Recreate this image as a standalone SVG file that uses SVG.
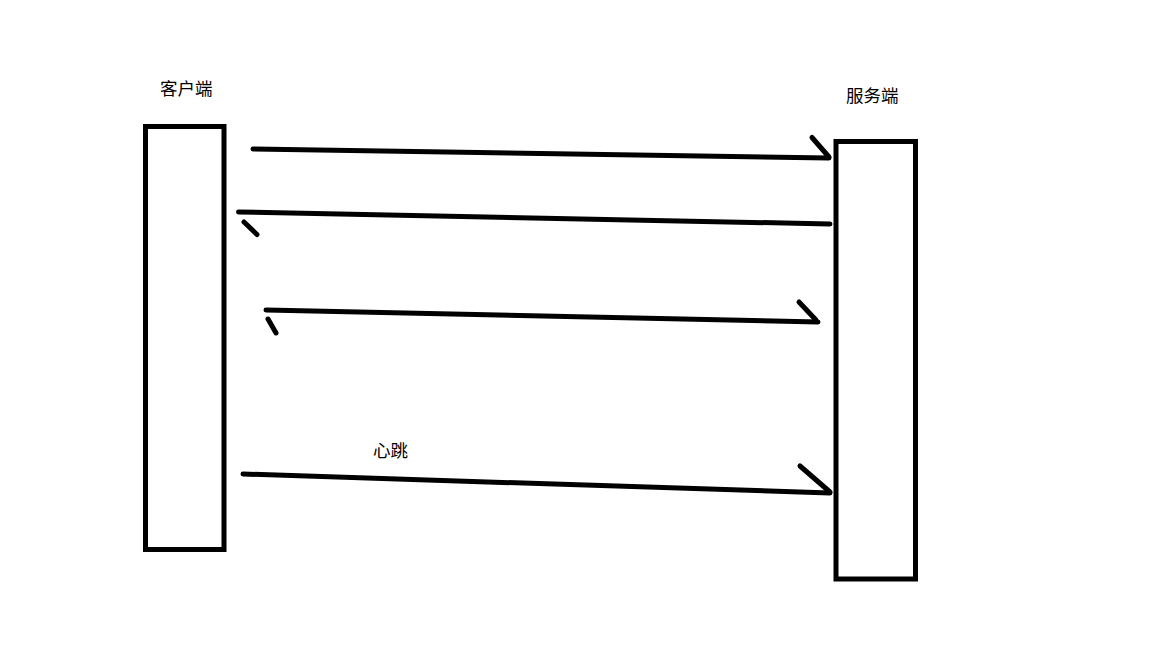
<svg xmlns="http://www.w3.org/2000/svg" width="1152" height="648" viewBox="0 0 1152 648">
<style>
.box{fill:#ffffff;stroke:#000000;stroke-width:5}
.ln{fill:none;stroke:#000000;stroke-width:5;stroke-linecap:round;stroke-linejoin:round}
.lbl{font-family:"Liberation Sans","Noto Sans CJK SC",sans-serif;font-size:17.5px;fill:#000000}
</style>
<rect x="0" y="0" width="1152" height="648" fill="#ffffff"/>
<g id="client">
<rect class="box" x="145.5" y="126.5" width="78.5" height="423"/>
<text class="lbl" x="160" y="95">客户端</text>
</g>
<g id="server">
<rect class="box" x="836" y="141.5" width="79.5" height="437.5"/>
<text class="lbl" x="846" y="102">服务端</text>
</g>
<g id="connectors">
<g id="msg1">
<path class="ln" d="M253,149 L829,158"/>
<path class="ln" d="M812,137.5 L829,157"/>
</g>
<g id="msg2">
<path class="ln" d="M830,224 L238.5,212"/>
<path class="ln" d="M244,222 L257,234.5"/>
</g>
<g id="msg3">
<path class="ln" d="M266,310 L818,322"/>
<path class="ln" d="M268,319 L276,333"/>
<path class="ln" d="M799,302 L816,320"/>
</g>
<g id="heartbeat">
<path class="ln" d="M243,474 L830,493"/>
<path class="ln" d="M800,466 L830,492"/>
<text class="lbl" x="373" y="457">心跳</text>
</g>
</g>
</svg>
